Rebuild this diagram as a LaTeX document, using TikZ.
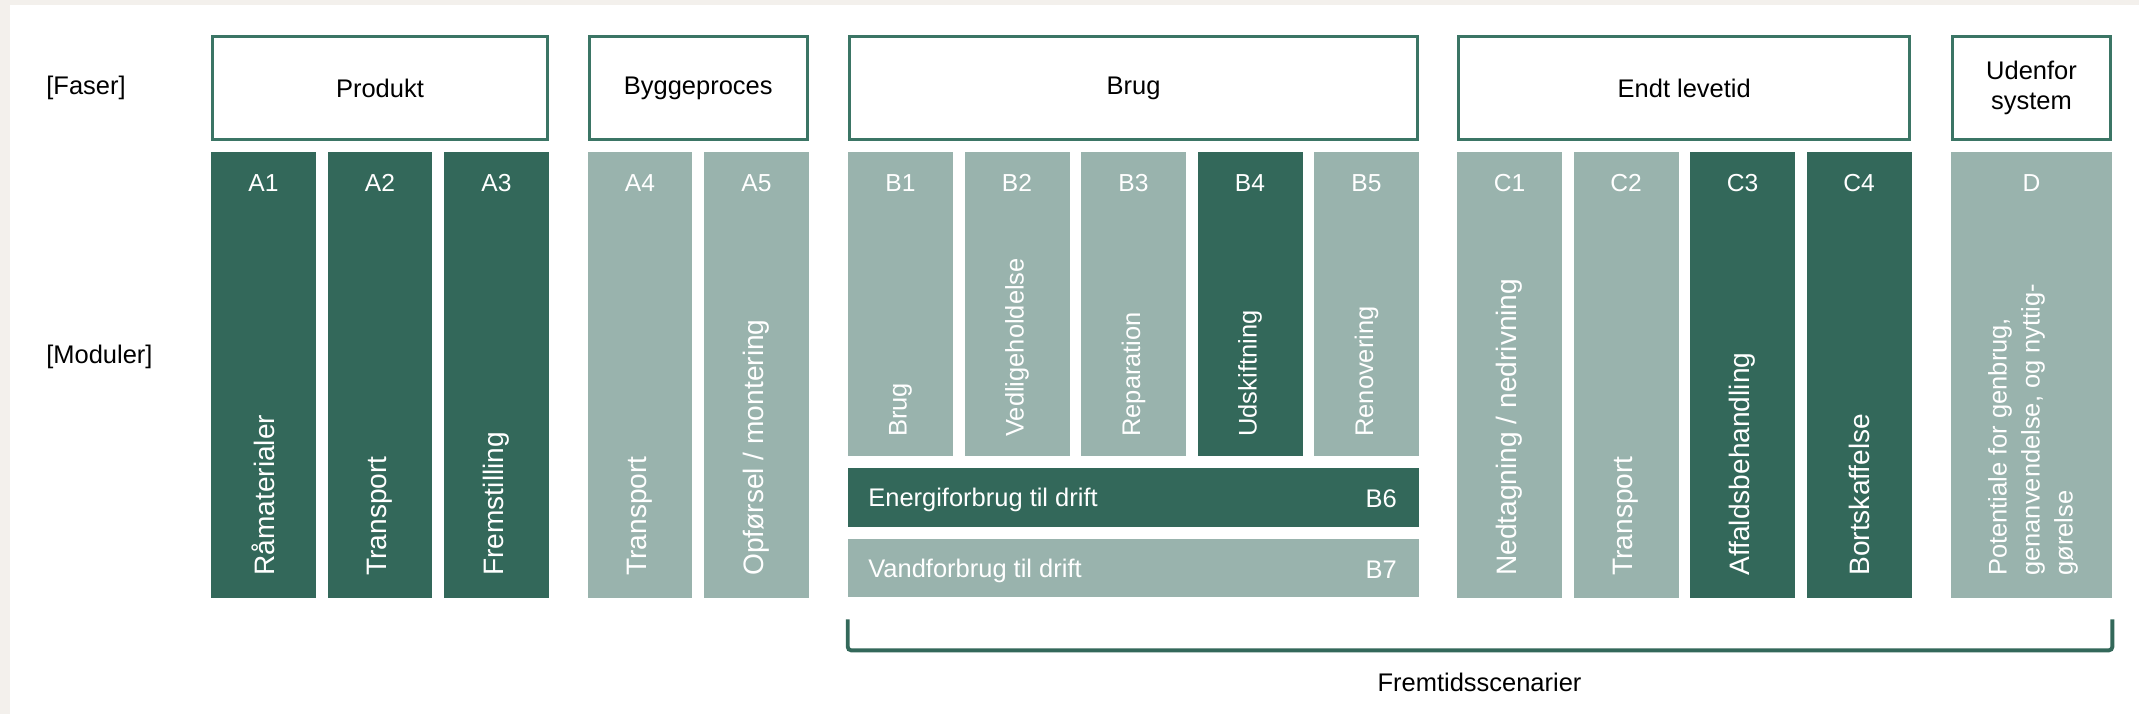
\documentclass[tikz,border=0pt]{standalone}
\usepackage{fontspec}
\setmainfont{Liberation Sans}
\usepackage{xcolor}
\usepackage{tikz}
\usetikzlibrary{calc}

\definecolor{darkgreen}{HTML}{33685A}
\definecolor{lightgreen}{HTML}{99B3AD}
\definecolor{framegreen}{HTML}{3B7565}
\definecolor{paper}{HTML}{F3F0EC}

\begin{document}
\begin{tikzpicture}[x=0.02cm,y=-0.02cm,
    fase/.style={draw=framegreen,line width=1.7pt,fill=white,minimum height=2.06cm,inner sep=0pt,align=center,font=\fontsize{14.5}{17.5}\selectfont},
    darkmod/.style={fill=darkgreen,minimum width=2.1cm,minimum height=8.92cm,inner sep=0pt},
    lightmod/.style={fill=lightgreen,minimum width=2.1cm,minimum height=8.92cm,inner sep=0pt},
    brugmod/.style={minimum height=6.08cm},
    modlabel/.style={text=white,inner sep=0pt,font=\fontsize{14}{16}\selectfont},
    modtext/.style={text=white,rotate=90,anchor=west,inner sep=0pt,align=left,font=\fontsize{16}{19}\selectfont},
    smalltext/.style={font=\fontsize{14.5}{18.8}\selectfont},
    rowtext/.style={text=white,inner sep=0pt,font=\fontsize{14.5}{17}\selectfont},
    sidelabel/.style={anchor=west,inner sep=0pt,font=\fontsize{14.5}{17}\selectfont},
    bracket/.style={draw=darkgreen,line width=2.2pt,rounded corners=2pt}]

    % paper
    \useasboundingbox (0,0) rectangle (2139,714);
    \fill[paper] (0,0) rectangle (2139,714);
    \fill[white] (10,5) rectangle (2139,714);

    % row labels
    \node[sidelabel] (faser) at (46,88) {[Faser]};
    \node[sidelabel] (moduler) at (46,357) {[Moduler]};

    % phases
    \node[fase,minimum width=6.7cm] (produkt) at (380,88) {Produkt};
    \node[fase,minimum width=4.37cm] (bygge) at (698.25,88) {Byggeproces};
    \node[fase,minimum width=11.36cm] (brug) at (1133.5,88) {Brug};
    \node[fase,minimum width=9.03cm] (endt) at (1684.25,88) {Endt levetid};
    \node[fase,minimum width=3.16cm] (udenfor) at (2031.5,88) {Udenfor\\system};

    % A1-A5
    \node[darkmod] (A1) at (263.5,375) {};
    \node[darkmod] (A2) at (380,375) {};
    \node[darkmod] (A3) at (496.5,375) {};
    \node[lightmod] (A4) at (640,375) {};
    \node[lightmod] (A5) at (756.5,375) {};
    \node[modlabel] (A1l) at (263.5,183) {A1};
    \node[modlabel] (A2l) at (380,183) {A2};
    \node[modlabel] (A3l) at (496.5,183) {A3};
    \node[modlabel] (A4l) at (640,183) {A4};
    \node[modlabel] (A5l) at (756.5,183) {A5};
    \node[modtext] (A1t) at (263.5,576) {Råmaterialer};
    \node[modtext] (A2t) at (380,576) {Transport};
    \node[modtext] (A3t) at (496.5,576) {Fremstilling};
    \node[modtext] (A4t) at (640,576) {Transport};
    \node[modtext] (A5t) at (756.5,576) {Opførsel / montering};

    % B1-B7
    \node[lightmod,brugmod] (B1) at (900.5,304) {};
    \node[lightmod,brugmod] (B2) at (1017,304) {};
    \node[lightmod,brugmod] (B3) at (1133.5,304) {};
    \node[darkmod,brugmod] (B4) at (1250,304) {};
    \node[lightmod,brugmod] (B5) at (1366.5,304) {};
    \node[modlabel] (B1l) at (900.5,183) {B1};
    \node[modlabel] (B2l) at (1017,183) {B2};
    \node[modlabel] (B3l) at (1133.5,183) {B3};
    \node[modlabel] (B4l) at (1250,183) {B4};
    \node[modlabel] (B5l) at (1366.5,183) {B5};
    \node[modtext,smalltext] (B1t) at (900.5,437) {Brug};
    \node[modtext,smalltext] (B2t) at (1017,437) {Vedligeholdelse};
    \node[modtext,smalltext] (B3t) at (1133.5,437) {Reparation};
    \node[modtext,smalltext] (B4t) at (1250,437) {Udskiftning};
    \node[modtext,smalltext] (B5t) at (1366.5,437) {Renovering};

    \node[darkmod,minimum width=11.42cm,minimum height=1.18cm] (B6) at (1133.5,497.5) {};
    \node[lightmod,minimum width=11.42cm,minimum height=1.16cm] (B7) at (1133.5,568) {};
    \node[rowtext,anchor=west] (B6t) at (868,500) {Energiforbrug til drift};
    \node[rowtext,anchor=east] (B6l) at (1397,499) {B6};
    \node[rowtext,anchor=west] (B7t) at (868,571) {Vandforbrug til drift};
    \node[rowtext,anchor=east] (B7l) at (1397,570) {B7};

    % C1-C4 and D
    \node[lightmod] (C1) at (1509.5,375) {};
    \node[lightmod] (C2) at (1626,375) {};
    \node[darkmod] (C3) at (1742.5,375) {};
    \node[darkmod] (C4) at (1859,375) {};
    \node[lightmod,minimum width=3.22cm] (D) at (2031.5,375) {};
    \node[modlabel] (C1l) at (1509.5,183) {C1};
    \node[modlabel] (C2l) at (1626,183) {C2};
    \node[modlabel] (C3l) at (1742.5,183) {C3};
    \node[modlabel] (C4l) at (1859,183) {C4};
    \node[modlabel] (Dl) at (2031.5,183) {D};
    \node[modtext] (C1t) at (1509.5,576) {Nedtagning / nedrivning};
    \node[modtext] (C2t) at (1626,576) {Transport};
    \node[modtext] (C3t) at (1742.5,576) {Affaldsbehandling};
    \node[modtext] (C4t) at (1859,576) {Bortskaffelse};
    \node[modtext,smalltext] (Dt) at (2033,576) {Potentiale for genbrug,\\genanvendelse, og nyttig-\\gørelse};

    % scenarios bracket
    \draw[bracket] ($(B7.south west)+(0,22)$) -- ++(0,31) -| ($(D.south east)+(0,21)$);
    \node[smalltext] (fremtid) at (1479.5,682) {Fremtidsscenarier};
\end{tikzpicture}
\end{document}
